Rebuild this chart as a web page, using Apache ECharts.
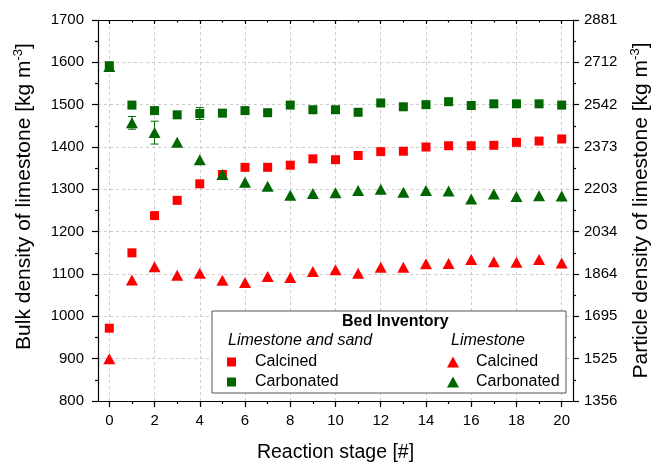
<!DOCTYPE html>
<html>
<head>
<meta charset="utf-8">
<script src="https://cdn.jsdelivr.net/npm/echarts@6/dist/echarts.min.js"></script>
<style>
  html, body { margin: 0; padding: 0; background: #fff; }
  #chart { width: 652px; height: 462px; }
</style>
</head>
<body>
<div id="chart"></div>
<script>
// reaction stages (x categories)
const stages = ['0','1','2','3','4','5','6','7','8','9','10','11','12','13','14','15','16','17','18','19','20'];

// bed inventory: limestone and sand
const sandCalcined   = [972, 1150, 1238, 1274, 1313, 1335, 1352, 1352, 1357, 1372, 1370, 1380, 1389, 1390, 1400, 1403, 1403, 1404, 1411, 1414, 1419];
const sandCarbonated = [1592, 1499, 1486, 1476, 1479, 1480, 1486, 1481, 1499, 1488, 1488, 1482, 1504, 1495, 1500, 1507, 1498, 1502, 1502, 1502, 1499];
// bed inventory: limestone only
const limeCalcined   = [900, 1086, 1117, 1097, 1102, 1085, 1080, 1094, 1092, 1106, 1110, 1102, 1116, 1116, 1124, 1125, 1134, 1129, 1128, 1134, 1126];
const limeCarbonated = [1590, 1457, 1434, 1411, 1370, 1335, 1317, 1307, 1286, 1290, 1292, 1297, 1300, 1293, 1297, 1296, 1277, 1289, 1283, 1285, 1284];

// error bars (+/-), 0 = none
const sandCarbonatedErr = [0, 0, 0, 0, 14, 0, 0, 0, 0, 0, 0, 0, 0, 0, 0, 0, 0, 0, 0, 0, 0];
const limeCarbonatedErr = [0, 15, 27, 0, 0, 0, 0, 0, 0, 0, 0, 0, 0, 0, 0, 0, 0, 0, 0, 0, 0];

// right axis tick labels (particle density)
const rightTickLabels = ['1356', '1525', '1695', '1864', '2034', '2203', '2373', '2542', '2712', '2881'];

const legendNames = {
    sandCalcined: 'Calcined',
    sandCarbonated: 'Carbonated',
    limeCalcined: 'Calcined',
    limeCarbonated: 'Carbonated'
};

const FONT = 'Liberation Sans';
const RED = '#ff0000';
const GREEN = '#006600';

// error bar data: [stage index, low, high]
const errData = [];
sandCarbonatedErr.forEach((e, i) => { if (e > 0) errData.push([i, sandCarbonated[i] - e, sandCarbonated[i] + e]); });
limeCarbonatedErr.forEach((e, i) => { if (e > 0) errData.push([i, limeCarbonated[i] - e, limeCarbonated[i] + e]); });

function xAxisFor(position, tickLen, tickInterval, inside, main) {
    return {
        type: 'category',
        data: stages,
        position: position,
        boundaryGap: true,
        axisLine: { show: true, lineStyle: { color: '#000', width: 1.2 } },
        axisTick: { show: true, interval: tickInterval, alignWithLabel: true, inside: inside, length: tickLen, lineStyle: { color: '#000', width: 1.2 } },
        axisLabel: { show: main, interval: 1, margin: 12, fontSize: 15, color: '#000', fontFamily: FONT },
        splitLine: main ? { show: true, interval: 1, alignWithLabel: true, lineStyle: { color: '#cccccc', type: [3, 3] } } : { show: false },
        name: main ? 'Reaction stage [#]' : '',
        nameLocation: 'middle',
        nameGap: 42,
        nameTextStyle: { fontSize: 19.5, color: '#000', fontFamily: FONT }
    };
}

const titleRich = {
    t: { fontSize: 21, lineHeight: 24, color: '#000', fontFamily: FONT },
    s: { fontSize: 13, lineHeight: 13, verticalAlign: 'top', color: '#000', fontFamily: FONT }
};

const chart = echarts.init(document.getElementById('chart'));

const option = {
    animation: false,
    backgroundColor: '#fff',
    grid: { left: 98, right: 79, top: 20, bottom: 61, containLabel: false, outerBoundsMode: 'none' },
    xAxis: [
        xAxisFor('bottom', 6, 1, false, true),
        xAxisFor('bottom', 3, 0, false, false),
        xAxisFor('top', 4, 1, true, false),
        xAxisFor('top', 2.5, 0, true, false)
    ],
    yAxis: [
        {
            type: 'value', position: 'left', min: 800, max: 1700, interval: 100,
            axisLine: { show: true, lineStyle: { color: '#000', width: 1.2 } },
            axisTick: { show: true, length: 6, lineStyle: { color: '#000', width: 1.2 } },
            minorTick: { show: true, splitNumber: 2, length: 3, lineStyle: { color: '#000', width: 1.2 } },
            axisLabel: { margin: 14, fontSize: 15, color: '#000', fontFamily: FONT, formatter: v => String(v) },
            splitLine: { show: true, lineStyle: { color: '#cccccc', type: [3, 3] } },
            name: '{t|Bulk density of limestone [kg m}{s|-3}{t|]}',
            nameLocation: 'middle', nameRotate: 90, nameGap: 62,
            nameTextStyle: { rich: titleRich, padding: [0, 0, 0, 28] }
        },
        {
            type: 'value', position: 'right', min: 800, max: 1700, interval: 100,
            axisLine: { show: true, lineStyle: { color: '#000', width: 1.2 } },
            axisTick: { show: true, length: 6, lineStyle: { color: '#000', width: 1.2 } },
            minorTick: { show: true, splitNumber: 2, length: 3, lineStyle: { color: '#000', width: 1.2 } },
            axisLabel: {
                margin: 11, fontSize: 15, color: '#000', fontFamily: FONT,
                formatter: v => rightTickLabels[Math.round((v - 800) / 100)]
            },
            splitLine: { show: false },
            name: '{t|Particle density of limestone [kg m}{s|-3}{t|]}',
            nameLocation: 'middle', nameRotate: 90, nameGap: 56,
            nameTextStyle: { rich: titleRich }
        }
    ],
    legend: [
        {
            data: ['sandCalcined', 'sandCarbonated'],
            orient: 'vertical', left: 222, top: 349, z: 200,
            icon: 'rect', itemWidth: 9, itemHeight: 9, itemGap: 4,
            selectedMode: false,
            formatter: n => legendNames[n],
            textStyle: { fontSize: 16, lineHeight: 16, color: '#000', fontFamily: FONT, padding: [0, 0, 0, 14] }
        },
        {
            data: ['limeCalcined', 'limeCarbonated'],
            orient: 'vertical', left: 442, top: 349, z: 200,
            icon: 'triangle', itemWidth: 12, itemHeight: 11, itemGap: 4,
            selectedMode: false,
            formatter: n => legendNames[n],
            textStyle: { fontSize: 16, lineHeight: 16, color: '#000', fontFamily: FONT, padding: [0, 0, 0, 12] }
        }
    ],
    graphic: [
        {
            type: 'rect', z: 90,
            shape: { x: 212, y: 311, width: 354, height: 82 },
            style: { fill: '#fff', stroke: '#555', lineWidth: 1 }
        },
        {
            type: 'text', z: 91, left: 342, top: 314,
            style: { text: 'Bed Inventory', font: 'bold 16px "Liberation Sans"', fill: '#000' }
        },
        {
            type: 'text', z: 91, left: 228, top: 333,
            style: { text: 'Limestone and sand', font: 'italic 16px "Liberation Sans"', fill: '#000' }
        },
        {
            type: 'text', z: 91, left: 451, top: 333,
            style: { text: 'Limestone', font: 'italic 16px "Liberation Sans"', fill: '#000' }
        }
    ],
    series: [
        {
            type: 'custom', name: 'errorBars', xAxisIndex: 0, yAxisIndex: 0, z: 1,
            encode: { x: 0, y: [1, 2] },
            data: errData,
            renderItem: (params, api) => {
                const lo = api.coord([api.value(0), api.value(1)]);
                const hi = api.coord([api.value(0), api.value(2)]);
                const w = 4;
                const st = { stroke: GREEN, lineWidth: 1 };
                return {
                    type: 'group',
                    children: [
                        { type: 'line', shape: { x1: lo[0], y1: lo[1], x2: hi[0], y2: hi[1] }, style: st },
                        { type: 'line', shape: { x1: lo[0] - w, y1: lo[1], x2: lo[0] + w, y2: lo[1] }, style: st },
                        { type: 'line', shape: { x1: hi[0] - w, y1: hi[1], x2: hi[0] + w, y2: hi[1] }, style: st }
                    ]
                };
            }
        },
        {
            type: 'scatter', name: 'sandCalcined', data: sandCalcined,
            symbol: 'rect', symbolSize: 9, itemStyle: { color: RED, opacity: 1 }, z: 2
        },
        {
            type: 'scatter', name: 'sandCarbonated', data: sandCarbonated,
            symbol: 'rect', symbolSize: 9, itemStyle: { color: GREEN, opacity: 1 }, z: 2
        },
        {
            type: 'scatter', name: 'limeCalcined', data: limeCalcined,
            symbol: 'triangle', symbolSize: [12, 11], itemStyle: { color: RED, opacity: 1 }, z: 3
        },
        {
            type: 'scatter', name: 'limeCarbonated', data: limeCarbonated,
            symbol: 'triangle', symbolSize: [12, 11], itemStyle: { color: GREEN, opacity: 1 }, z: 3
        }
    ]
};

chart.setOption(option);
</script>
</body>
</html>
